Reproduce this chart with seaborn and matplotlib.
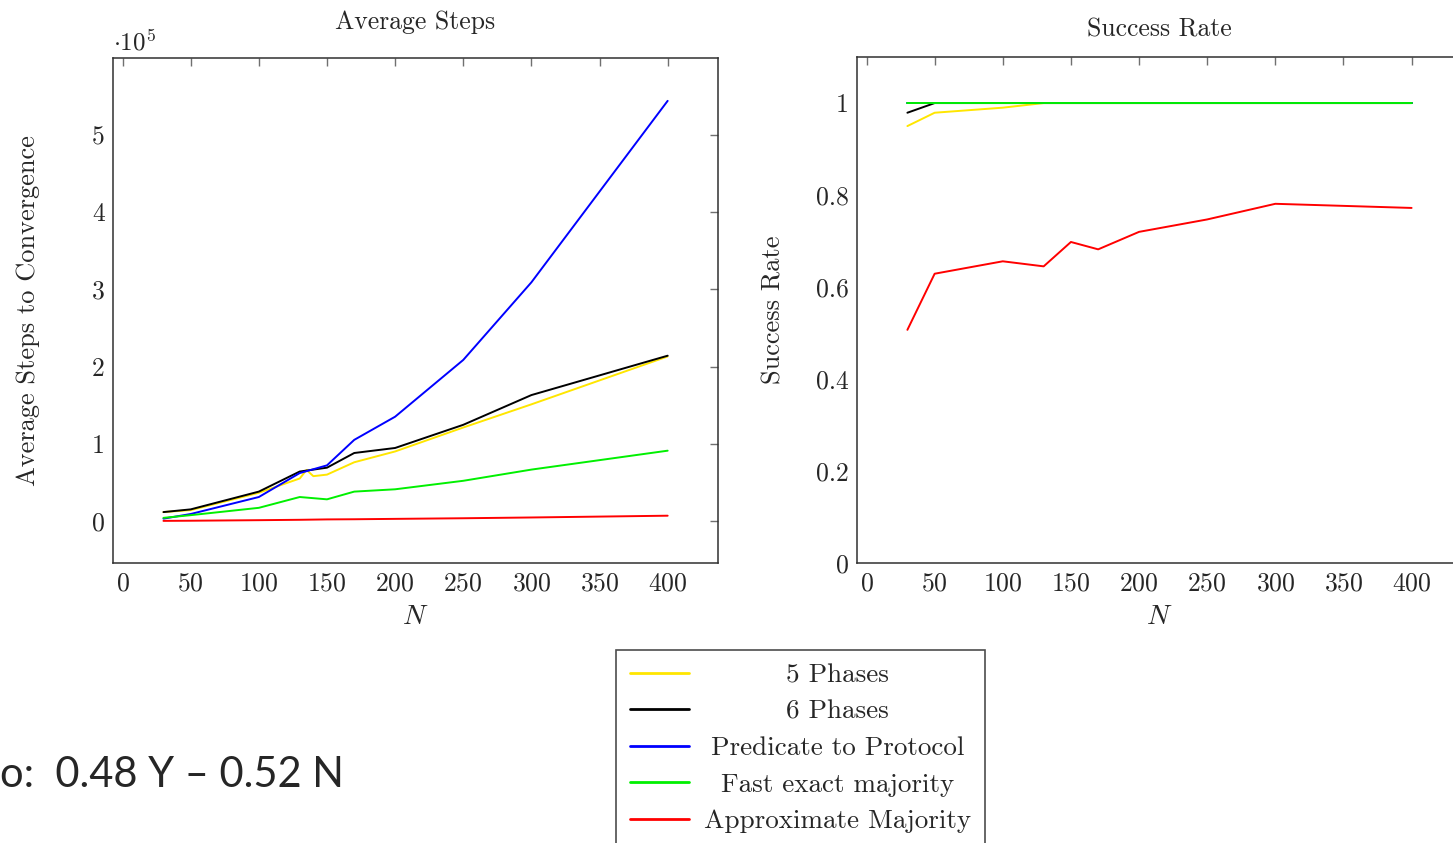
import numpy as np
import pandas as pd
import matplotlib
matplotlib.use("Agg")
import matplotlib.pyplot as plt
import seaborn as sns
from matplotlib.ticker import FuncFormatter, MultipleLocator

# data
n_values = [30, 50, 100, 130, 150, 170, 200, 250, 300, 400]
n_values_5ph = [30, 50, 100, 130, 135, 140, 150, 170, 200, 250, 300, 400]

steps_5ph = [11500, 14000, 36500, 55000, 66000, 58000, 60000, 76000, 90000, 121000, 151000, 213000]
steps_6ph = [11500, 15000, 38000, 64000, 69000, 88000, 94500, 124500, 163000, 214000]
steps_p2p = [3000, 9000, 31000, 62000, 72000, 105000, 135000, 208500, 309000, 544000]
steps_fem = [4000, 7500, 17000, 31000, 28000, 38000, 41000, 52000, 66500, 91000]
steps_am = [100, 300, 1000, 1500, 2000, 2200, 2700, 3500, 4500, 6800]

success_5ph = [0.950, 0.979, 0.990, 1.0, 1.0, 1.0, 1.0, 1.0, 1.0, 1.0]
success_6ph = [0.979, 1.0, 1.0, 1.0, 1.0, 1.0, 1.0, 1.0, 1.0, 1.0]
success_p2p = [1.0, 1.0, 1.0, 1.0, 1.0, 1.0, 1.0, 1.0, 1.0, 1.0]
success_fem = [1.0, 1.0, 1.0, 1.0, 1.0, 1.0, 1.0, 1.0, 1.0, 1.0]
success_am = [0.507, 0.629, 0.656, 0.645, 0.698, 0.682, 0.720, 0.747, 0.781, 0.772]

protocols = ["5 Phases", "6 Phases", "Predicate to Protocol",
             "Fast exact majority", "Approximate Majority"]
colors = ["#FFE600", "#000000", "#0000FF", "#00F000", "#FF0000"]

steps_df = pd.concat([
    pd.DataFrame({"N": n_values_5ph, "value": steps_5ph, "protocol": protocols[0]}),
    pd.DataFrame({"N": n_values, "value": steps_6ph, "protocol": protocols[1]}),
    pd.DataFrame({"N": n_values, "value": steps_p2p, "protocol": protocols[2]}),
    pd.DataFrame({"N": n_values, "value": steps_fem, "protocol": protocols[3]}),
    pd.DataFrame({"N": n_values, "value": steps_am, "protocol": protocols[4]}),
])
success_df = pd.concat([
    pd.DataFrame({"N": n_values, "value": s, "protocol": p})
    for s, p in zip([success_5ph, success_6ph, success_p2p, success_fem, success_am], protocols)
])

sns.set_theme(style="white")
plt.rcParams["font.family"] = ["cmr10", "DejaVu Sans"]
plt.rcParams["mathtext.fontset"] = "cm"
plt.rcParams["axes.formatter.use_mathtext"] = True

palette = dict(zip(protocols, colors))

fig = plt.figure(figsize=(14.53, 8.43), dpi=100)
ax1 = fig.add_axes([0.0778, 0.3321, 0.4164, 0.5991])
ax2 = fig.add_axes([0.5898, 0.3321, 0.4164, 0.6002])

for ax, df in [(ax1, steps_df), (ax2, success_df)]:
    sns.lineplot(data=df, x="N", y="value", hue="protocol", hue_order=protocols,
                 palette=palette, estimator=None, linewidth=1.4, ax=ax)
    ax.set_xlim(-7, 437)
    ax.xaxis.set_major_locator(MultipleLocator(50))
    ax.tick_params(direction="in", top=True, right=True, length=6, width=1,
                   color="#707070", labelsize=18.5, pad=6)
    for sp in ax.spines.values():
        sp.set_color("#303030")
        sp.set_linewidth(1.1)
    ax.set_xlabel("$N$", fontsize=20, labelpad=6)
    ax.get_legend().remove()

# left: average steps
ax1.set_ylim(-54500, 599500)
ax1.yaxis.set_major_locator(MultipleLocator(100000))
ax1.yaxis.set_major_formatter(FuncFormatter(lambda v, p: "%d" % round(v / 1e5)))
ax1.set_ylabel("Average Steps to Convergence", fontsize=19, labelpad=37)
ax1.set_title("Average Steps", fontsize=18.5, pad=21)
ax1.text(0.0, 1.005, r"$\cdot 10^5$", transform=ax1.transAxes, fontsize=18,
         ha="left", va="bottom")

# right: success rate
ax2.set_ylim(0, 1.1)
ax2.yaxis.set_major_locator(MultipleLocator(0.2))
ax2.yaxis.set_major_formatter(FuncFormatter(lambda v, p: "%g" % round(v, 1)))
ax2.set_ylabel("Success Rate", fontsize=19, labelpad=22)
ax2.set_title("Success Rate", fontsize=18.5, pad=15)

# shared legend below, text centred like pgfplots
handles, labels = ax1.get_legend_handles_labels()
leg = fig.legend(handles, labels, loc="upper left",
                 bbox_to_anchor=(616 / 1453, 1 - 650 / 843), fontsize=19.5,
                 frameon=True, fancybox=False, edgecolor="#202020",
                 handlelength=2.2, handletextpad=0.55, labelspacing=0.46,
                 borderpad=0.5, borderaxespad=0)
leg.get_frame().set_linewidth(1.2)
for line in leg.get_lines():
    line.set_linewidth(2)

fig.canvas.draw()
renderer = fig.canvas.get_renderer()
widths = [t.get_window_extent(renderer).width for t in leg.get_texts()]
for t, w in zip(leg.get_texts(), widths):
    t.set_x((max(widths) - w) / 2)

fig.text(0.0, 1 - 775 / 843, "o:  0.48 Y \u2013 0.52 N", fontsize=30,
         family=["Lato", "DejaVu Sans"], ha="left", va="center")

fig.savefig("out.png", dpi=100)
